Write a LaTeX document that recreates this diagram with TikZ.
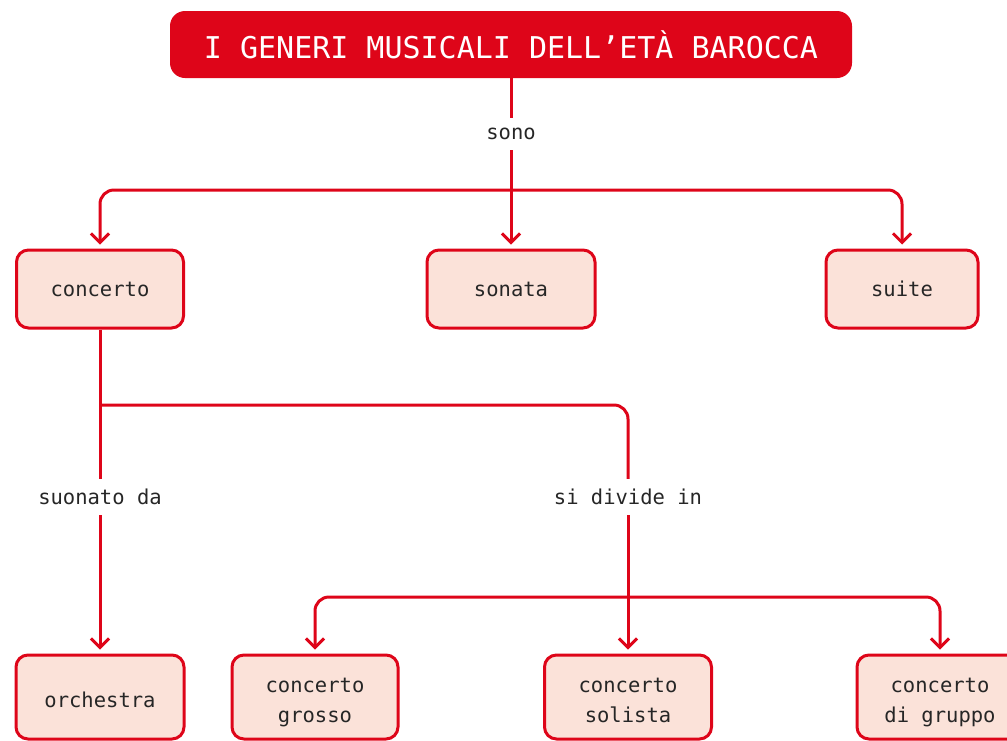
\documentclass[tikz,border=0pt]{standalone}
\usepackage{fontspec}
\setmainfont{DejaVu Sans Mono}
\usetikzlibrary{arrows.meta}
\definecolor{myred}{HTML}{DE0519}
\definecolor{mypink}{HTML}{FBE2D9}
\definecolor{mytext}{HTML}{262626}
\newcommand{\twolines}[2]{\raisebox{-4pt}[\height][\depth]{\begin{tabular}{@{}c@{}}#1\\#2\end{tabular}}}
\newcommand{\oneline}[1]{\raisebox{-3pt}[\height][\depth]{#1}}
\begin{document}
\begin{tikzpicture}[x=1pt,y=-1pt,
 box/.style={draw=myred, line width=3pt, fill=mypink, rounded corners=12pt,
   minimum height=78pt, text=mytext, font=\fontsize{20.5}{30}\selectfont,
   inner sep=0pt},
 lowbox/.style={box, minimum height=84pt},
 lbl/.style={text=mytext, font=\fontsize{20.5}{24}\selectfont, inner xsep=2pt, inner ysep=10pt},
 conn/.style={draw=myred, line width=3pt},
 arr/.style={conn, -{Straight Barb[length=9pt,width=18pt,line width=3pt]}, shorten >=4pt},
 titlebox/.style={fill=myred, rounded corners=15pt, text=white, minimum width=682pt,
   minimum height=67pt, inner sep=0pt, font=\fontsize{30}{36}\selectfont}
]
\useasboundingbox (0,0) rectangle (1007,740);
\node[titlebox] (t) at (511,44.5) {I GENERI MUSICALI DELL’ETÀ BAROCCA};
\node[lbl] (sono) at (511,134) {sono};
\node[box, minimum width=167pt] (concerto) at (100,289) {concerto};
\node[box, minimum width=168pt] (sonata) at (511,289) {sonata};
\node[box, minimum width=152pt] (suite) at (902,289) {suite};
\node[lbl] (suonato) at (100,497) {suonato da};
\node[lbl] (divide) at (628,497) {si divide in};
\node[lowbox, minimum width=168pt] (orchestra) at (100,697) {\oneline{orchestra}};
\node[lowbox, minimum width=166pt] (grosso) at (315,697) {\twolines{concerto}{grosso}};
\node[lowbox, minimum width=167pt] (solista) at (628,697) {\twolines{concerto}{solista}};
\node[lowbox, minimum width=166pt] (gruppo) at (940,697) {\twolines{concerto}{di gruppo}};
\coordinate (j1) at (511,190);
\coordinate (j2) at (100,405);
\coordinate (j3) at (628,597);
\draw[conn] (t.south) -- (sono.north);
\draw[arr] (sono.south) -- (sonata.north);
\draw[arr, rounded corners=14pt] (j1) -| (concerto.north);
\draw[arr, rounded corners=14pt] (j1) -| (suite.north);
\draw[conn] (concerto.south) -- (suonato.north);
\draw[arr] (suonato.south) -- (orchestra.north);
\draw[conn, rounded corners=14pt] (j2) -| (divide.north);
\draw[arr] (divide.south) -- (solista.north);
\draw[arr, rounded corners=14pt] (j3) -| (grosso.north);
\draw[arr, rounded corners=14pt] (j3) -| (gruppo.north);
\end{tikzpicture}
\end{document}
